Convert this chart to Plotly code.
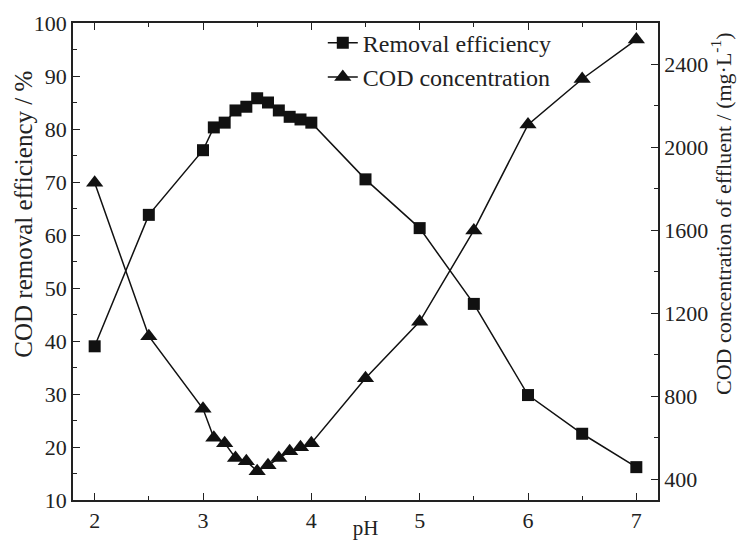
import plotly.graph_objects as go

# pH values sampled
ph = [2, 2.5, 3, 3.1, 3.2, 3.3, 3.4, 3.5, 3.6, 3.7, 3.8, 3.9, 4, 4.5, 5, 5.5, 6, 6.5, 7]

# COD removal efficiency, %
removal = [39.0, 63.8, 76.0, 80.3, 81.2, 83.5, 84.2, 85.8, 85.0, 83.5, 82.3, 81.8, 81.2,
           70.5, 61.3, 47.0, 29.8, 22.5, 16.2]

# COD concentration of effluent, mg/L
cod = [1830, 1090, 740, 600, 574, 503, 487, 439, 467, 503, 535, 554, 574,
       887, 1160, 1600, 2110, 2330, 2520]

FONT = "Liberation Serif"

fig = go.Figure()
fig.add_trace(go.Scatter(x=ph, y=removal, name="Removal efficiency", mode="lines+markers",
                         line=dict(color="#111", width=1.5),
                         marker=dict(symbol="square", size=12, color="#111")))
fig.add_trace(go.Scatter(x=ph, y=cod, name="COD concentration", mode="lines+markers",
                         yaxis="y2", line=dict(color="#111", width=1.5),
                         marker=dict(symbol="triangle-up", size=15, color="#111")))

axis_common = dict(showline=True, linecolor="#222", linewidth=1.5, ticks="inside",
                   ticklen=7, tickwidth=1.2, tickcolor="#222", showgrid=False, zeroline=False,
                   automargin=False, tickfont=dict(family=FONT, size=22, color="#222"))

# page body has an 8px margin, so the figure is a bit smaller than the window
fig.update_layout(
    width=737, height=532,
    margin=dict(l=65, r=87, t=15, b=40),
    plot_bgcolor="white", paper_bgcolor="white",
    font=dict(family=FONT, size=22, color="#222"),
    showlegend=True,
    legend=dict(x=0.427, y=1.005, xanchor="left", yanchor="top", bgcolor="rgba(0,0,0,0)",
                font=dict(family=FONT, size=24, color="#222"), tracegroupgap=0),
    xaxis=dict(range=[1.8, 7.2], dtick=1, mirror="ticks",
               minor=dict(ticks="inside", dtick=0.5, ticklen=4, tickcolor="#222"),
               title=dict(text="pH", standoff=0, font=dict(family=FONT, size=21)),
               **axis_common),
    yaxis=dict(range=[10, 100], dtick=10,
               minor=dict(ticks="inside", dtick=5, ticklen=4, tickcolor="#222"),
               **axis_common),
    yaxis2=dict(range=[300, 2600], tickvals=[400, 800, 1200, 1600, 2000, 2400],
                overlaying="y", side="right",
                minor=dict(ticks="inside", tickvals=[600, 1000, 1400, 1800, 2200],
                           ticklen=4, tickcolor="#222"),
                **axis_common),
)

# axis titles sit above the axis centre in the original, so place them by hand
fig.add_annotation(text="COD removal efficiency / %", textangle=-90,
                   xref="paper", yref="paper", x=-0.084, y=0.6, showarrow=False,
                   xanchor="center", yanchor="middle", font=dict(family=FONT, size=25))
fig.add_annotation(text="COD concentration of effluent / (mg·L<sup>-1</sup>)", textangle=-90,
                   xref="paper", yref="paper", x=1.108, y=0.6, showarrow=False,
                   xanchor="center", yanchor="middle", font=dict(family=FONT, size=22))

fig.write_html("out.html")
